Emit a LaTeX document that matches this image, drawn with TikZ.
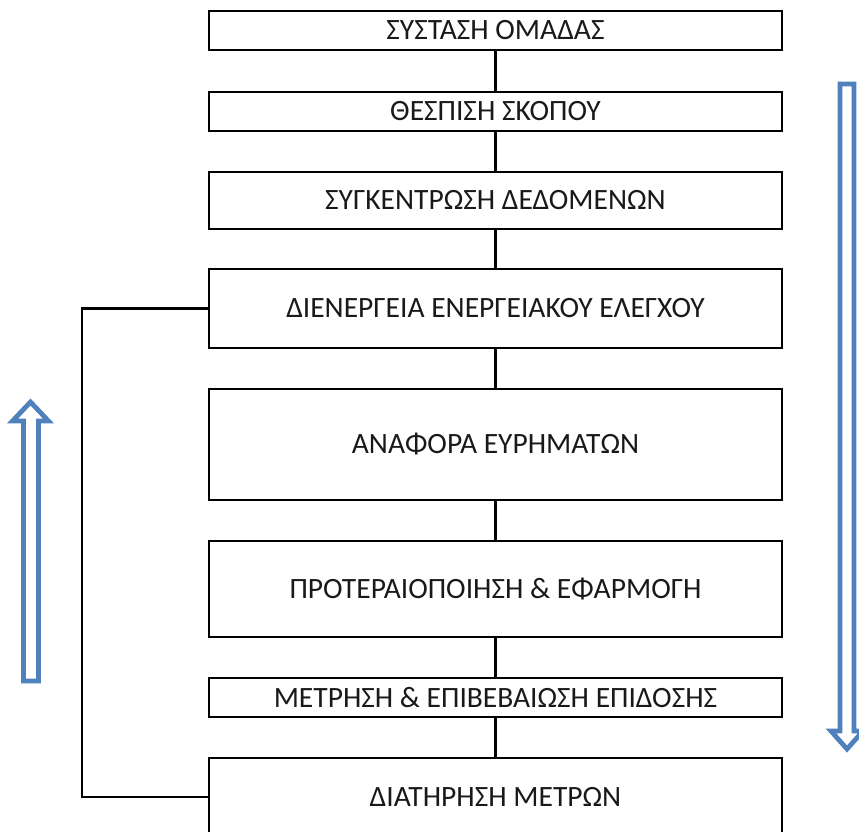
\documentclass[tikz,border=0pt]{standalone}
\usepackage{fontspec}
\setmainfont{Carlito}
\definecolor{flowblue}{RGB}{79,129,189}
\begin{document}
\begin{tikzpicture}[x=1pt,y=-1pt,
  stepbox/.style={draw=black,line width=2.2pt,rectangle,minimum width=573pt,
    inner sep=0pt,font=\fontsize{29.5}{34}\selectfont,text=black!90},
  link/.style={draw=black,line width=2.2pt},
  hollowarrow/.style={draw=flowblue,line width=4.8pt,line join=miter,fill=white}]
\useasboundingbox (0,0) rectangle (859,832);

% process steps
\node[stepbox,minimum height=39pt] (s1) at (495.5,30.5) {ΣΥΣΤΑΣΗ ΟΜΑΔΑΣ};
\node[stepbox,minimum height=39pt] (s2) at (495.5,111.5) {ΘΕΣΠΙΣΗ ΣΚΟΠΟΥ};
\node[stepbox,minimum height=57pt] (s3) at (495.5,200.5) {ΣΥΓΚΕΝΤΡΩΣΗ ΔΕΔΟΜΕΝΩΝ};
\node[stepbox,minimum height=79pt] (s4) at (495.5,308.5) {ΔΙΕΝΕΡΓΕΙΑ ΕΝΕΡΓΕΙΑΚΟΥ ΕΛΕΓΧΟΥ};
\node[stepbox,minimum height=111pt] (s5) at (495.5,444.5) {ΑΝΑΦΟΡΑ ΕΥΡΗΜΑΤΩΝ};
\node[stepbox,minimum height=96pt] (s6) at (495.5,589) {ΠΡΟΤΕΡΑΙΟΠΟΙΗΣΗ \& ΕΦΑΡΜΟΓΗ};
\node[stepbox,minimum height=39pt] (s7) at (495.5,697.5) {ΜΕΤΡΗΣΗ \& ΕΠΙΒΕΒΑΙΩΣΗ ΕΠΙΔΟΣΗΣ};
\node[stepbox,minimum height=78pt] (s8) at (495.5,797) {ΔΙΑΤΗΡΗΣΗ ΜΕΤΡΩΝ};

% connectors between consecutive steps
\foreach \a/\b in {s1/s2,s2/s3,s3/s4,s4/s5,s5/s6,s6/s7,s7/s8}
  \draw[link] (\a.south) -- (\b.north);

% feedback loop on the left
\coordinate (loopTop) at (82,308.5);
\coordinate (loopBot) at (82,797);
\draw[link] (s4.west) -- (loopTop) -- (loopBot) -- (s8.west);

% hollow block arrow pointing up (left side)
\draw[hollowarrow] (23.5,681) -- (23.5,421) -- (12.5,421) -- (30.5,402)
  -- (48.5,421) -- (38.5,421) -- (38.5,681) -- cycle;

% hollow block arrow pointing down (right side)
\draw[hollowarrow] (840,84) -- (854,84) -- (854,731) -- (863,731) -- (847,749)
  -- (831,731) -- (840,731) -- cycle;
\end{tikzpicture}
\end{document}
